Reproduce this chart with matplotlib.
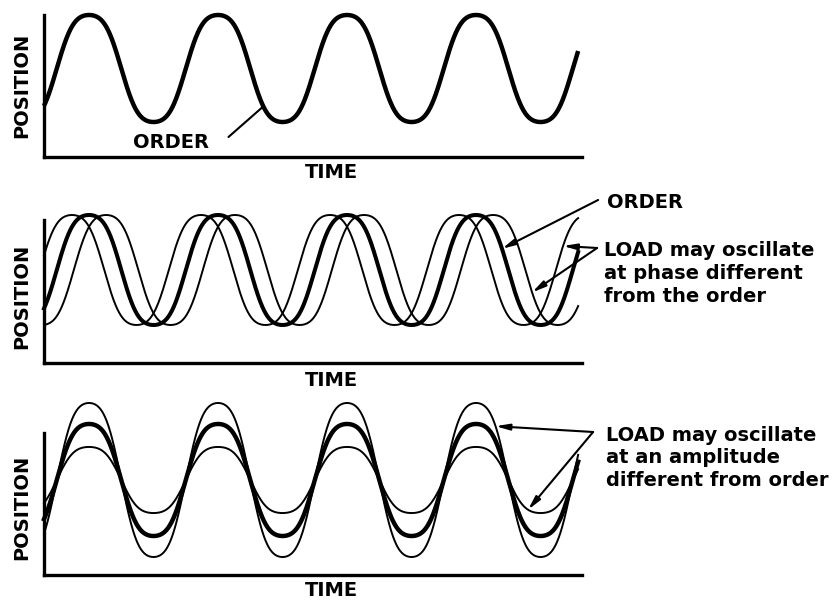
import numpy as np
import matplotlib.pyplot as plt

plt.rcParams['font.family'] = ['DejaVu Sans']

# Wave description (time in cycles of the order signal, position in units
# of the order amplitude)
t_end = 4.14                 # where the traces stop
axis_end = 4.17              # length of the time axis
order_peak = 0.349           # time of the first order peak
crest_flatten = 0.07         # third-harmonic share giving broad, round crests
phase_shifts = [-0.132, 0.132]      # load traces leading / lagging the order
load_amplitudes = [1.375, 0.59]     # load traces larger / smaller than the order

axis_label_y = "POSITION"
axis_label_x = "TIME"
order_label = "ORDER"
phase_note = ["LOAD may oscillate", "at phase different", "from the order"]
amp_note = ["LOAD may oscillate", "at an amplitude", "different from order"]

W, H = 834, 602
fig = plt.figure(figsize=(W / 100, H / 100), dpi=100)

FONT = dict(fontsize=14, fontweight='bold', color='black')


def wave(t, shift=0.0, amp=1.0):
    ph = 2 * np.pi * (np.asarray(t) - order_peak - shift)
    k = crest_flatten
    return amp * (np.cos(ph) - k * np.cos(3 * ph)) / (1 - k)


def make_axes(top_px, bottom_px, ylim, label_y_frac, time_y_frac):
    left_px, right_px = 44, 582
    ax = fig.add_axes([left_px / W, 1 - bottom_px / H,
                       (right_px - left_px) / W, (bottom_px - top_px) / H])
    ax.set_xlim(0, axis_end)
    ax.set_ylim(*ylim)
    for side in ('top', 'right'):
        ax.spines[side].set_visible(False)
    for side in ('left', 'bottom'):
        ax.spines[side].set_linewidth(2.4)
        ax.spines[side].set_capstyle('projecting')
    ax.set_xticks([])
    ax.set_yticks([])
    ax.patch.set_alpha(0)
    ax.text(-0.041, label_y_frac, axis_label_y, rotation=90, ha='center',
            va='center', transform=ax.transAxes, **FONT)
    ax.text(0.535, time_y_frac, axis_label_x, ha='center', va='center',
            transform=ax.transAxes, **FONT)
    return ax


t = np.linspace(0, t_end, 1500)
ARROW = dict(arrowstyle='-|>,head_length=0.8,head_width=0.18', lw=1.5,
             color='black', shrinkA=0, shrinkB=0, mutation_scale=10)

# Panel 1: the order alone
ax1 = make_axes(15, 157, (-1.654, 1.0), 0.507, -0.106)
ax1.plot(t, wave(t), color='black', lw=3.2, clip_on=False,
         solid_capstyle='butt')
ax1.text(0.69, -1.486, order_label, ha='left', va='baseline', **FONT)
t_hit = 1.70
ax1.annotate('', xy=(t_hit, wave(t_hit)), xytext=(1.43, -1.28),
             arrowprops=dict(arrowstyle='-', lw=1.5, color='black',
                             shrinkA=0, shrinkB=0),
             annotation_clip=False)

# Panel 2: load traces shifted in phase
ax2 = make_axes(220, 363, (-1.691, 0.909), 0.469, -0.119)
for s in phase_shifts:
    ax2.plot(t, wave(t, shift=s), color='black', lw=1.4, clip_on=False)
ax2.plot(t, wave(t), color='black', lw=2.9, clip_on=False)
ax2.text(4.364, 1.127, order_label, ha='left', va='baseline', **FONT)
t_hit = 3.55
ax2.annotate('', xy=(t_hit, wave(t_hit)), xytext=(4.295, 1.273),
             arrowprops=ARROW, annotation_clip=False)
for s, t_hit in zip(phase_shifts, [4.023, 3.783]):
    ax2.annotate('', xy=(t_hit, wave(t_hit, shift=s)), xytext=(4.287, 0.40),
                 arrowprops=ARROW, annotation_clip=False)
for line, yb in zip(phase_note, [0.255, -0.164, -0.582]):
    ax2.text(4.341, yb, line, ha='left', va='baseline', **FONT)

# Panel 3: load traces with a different amplitude
ax3 = make_axes(433, 575, (-1.696, 0.839), 0.479, -0.106)
for a in load_amplitudes:
    ax3.plot(t, wave(t, amp=a), color='black', lw=1.4, clip_on=False)
ax3.plot(t, wave(t), color='black', lw=3.2, clip_on=False)
for a, t_hit in zip(load_amplitudes, [3.50, 3.752]):
    ax3.annotate('', xy=(t_hit, wave(t_hit, amp=a)), xytext=(4.256, 0.857),
                 arrowprops=ARROW, annotation_clip=False)
for line, yb in zip(amp_note, [0.696, 0.304, -0.107]):
    ax3.text(4.357, yb, line, ha='left', va='baseline', **FONT)

fig.savefig('out.png', dpi=100, facecolor='white')
